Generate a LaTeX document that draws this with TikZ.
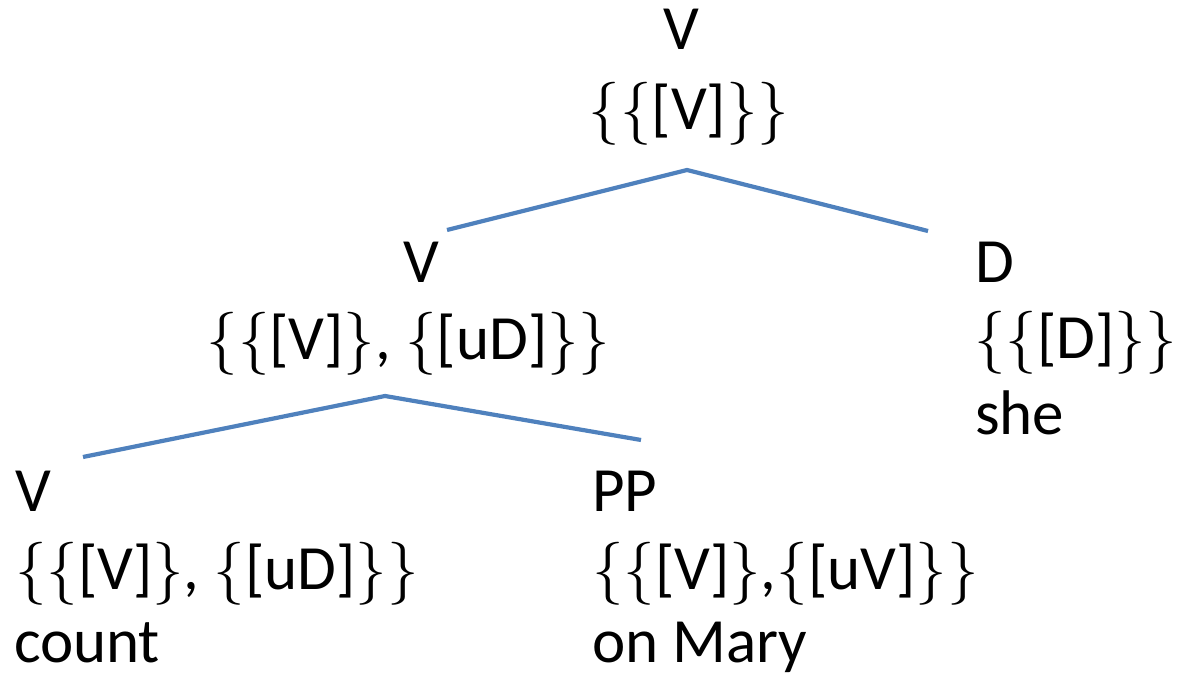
\documentclass[tikz,border=0pt]{standalone}
\usepackage{fontspec}
\setmainfont{Carlito}
\newfontfamily\bracefont{Latin Modern Roman}
\newcommand\LB{{\bracefont\{}}
\newcommand\RB{{\bracefont\}}}
\definecolor{branch}{RGB}{79,129,189}
\begin{document}
\begin{tikzpicture}[x=1pt,y=1pt,
  lbl/.style={inner sep=0pt,outer sep=0pt,font=\fontsize{63}{76}\selectfont},
  edge/.style={draw=branch,line width=4.2pt}]
\useasboundingbox (0,0) rectangle (1178,674);
% top node
\node[lbl,anchor=base] (topcat) at (681,624) {V};
\node[lbl,anchor=base] (topfeat) at (689,544) {\LB\LB[V]\RB\RB};
% middle V
\node[lbl,anchor=base] (midcat) at (421,391) {V};
\node[lbl,anchor=base] (midfeat) at (408.5,314) {\LB\LB[V]\RB, \LB[uD]\RB\RB};
% D
\node[lbl,anchor=base west] (dcat) at (975,391) {D};
\node[lbl,anchor=base west] (dfeat) at (974,315) {\LB\LB[D]\RB\RB};
\node[lbl,anchor=base west] (dword) at (975,239) {she};
% bottom V
\node[lbl,anchor=base west] (vcat) at (15,162) {V};
\node[lbl,anchor=base west] (vfeat) at (15,84) {\LB\LB[V]\RB, \LB[uD]\RB\RB};
\node[lbl,anchor=base west] (vword) at (14,11) {count};
% PP
\node[lbl,anchor=base west] (ppcat) at (592,162) {PP};
\node[lbl,anchor=base west] (ppfeat) at (592,84) {\LB\LB[V]\RB,\LB[uV]\RB\RB};
\node[lbl,anchor=base west] (ppword) at (592,11) {on Mary};
% branch points
\coordinate (apex1) at (687,504);
\coordinate (left1) at (447,444);
\coordinate (right1) at (928,443);
\coordinate (apex2) at (385,278);
\coordinate (left2) at (83,217);
\coordinate (right2) at (641,234);
\draw[edge] (left1) -- (apex1) -- (right1);
\draw[edge] (left2) -- (apex2) -- (right2);
\end{tikzpicture}
\end{document}
